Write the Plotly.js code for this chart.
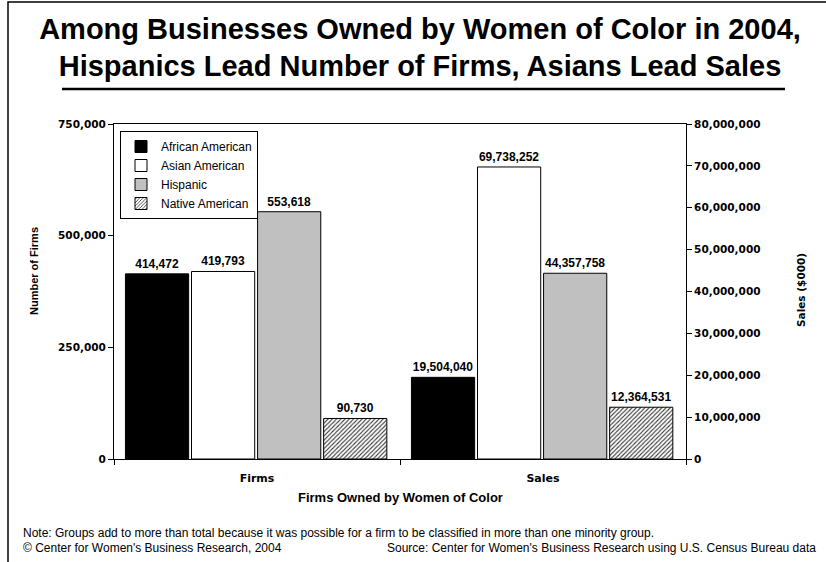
<!DOCTYPE html>
<html>
<head>
<meta charset="utf-8">
<script src="https://cdn.plot.ly/plotly-3.0.1.min.js"></script>
<style>html,body{margin:0;padding:0;background:#fff;}#chart{width:826px;height:562px;}</style>
</head>
<body>
<div id="chart"></div>
<script>
const categories = ['Firms', 'Sales'];
const series = ['African American', 'Asian American', 'Hispanic', 'Native American'];
const firms = [414472, 419793, 553618, 90730];
const sales = [19504040, 69738252, 44357758, 12364531];
const firmTicks = [0, 250000, 500000, 750000];

const FONT = 'Liberation Sans, Arial, sans-serif';
const WIDE = 'DejaVu Sans, Verdana, sans-serif';
const fills = ['#000000', '#ffffff', '#c0c0c0', '#ffffff'];
const offsets = [-0.46, -0.229, 0.002, 0.233];
const barWidth = 0.221;

function markerFor(i) {
  const m = {color: fills[i], line: {color: '#000', width: 1}};
  if (i === 3) m.pattern = {shape: '/', fgcolor: '#333', bgcolor: '#fff', size: 3, solidity: 0.35};
  return m;
}

const traces = [];
series.forEach((name, i) => {
  traces.push({
    type: 'bar', name: name, x: [categories[0]], y: [firms[i]], yaxis: 'y',
    offset: offsets[i], width: barWidth, marker: markerFor(i),
    texttemplate: '%{y:,}', textposition: 'outside', cliponaxis: false,
    textfont: {family: FONT, size: 12, color: '#000', weight: 700},
    hoverinfo: 'skip'
  });
});
series.forEach((name, i) => {
  traces.push({
    type: 'bar', name: name, x: [categories[1]], y: [sales[i]], yaxis: 'y2',
    offset: offsets[i], width: barWidth, marker: markerFor(i), showlegend: false,
    texttemplate: '%{y:,}', textposition: 'outside', cliponaxis: false,
    textfont: {family: FONT, size: 12, color: '#000', weight: 700},
    hoverinfo: 'skip'
  });
});

const L = 114, R = 686, T = 124, B = 459;
const W = R - L, H = B - T;
const px = v => (v - L) / W;
const py = v => (B - v) / H;

const tickFont = {family: WIDE, size: 10.5, color: '#000', weight: 700};

const layout = {
  width: 826, height: 562,
  margin: {l: L, r: 826 - R, t: T, b: 562 - B, pad: 0},
  paper_bgcolor: '#fff', plot_bgcolor: '#fff',
  font: {family: FONT, color: '#000'},
  barmode: 'overlay',
  showlegend: true,
  title: {
    text: 'Among Businesses Owned by Women of Color in 2004,<br>Hispanics Lead Number of Firms, Asians Lead Sales',
    font: {family: FONT, size: 29, color: '#000', weight: 700},
    x: 420 / 826, xanchor: 'center', xref: 'container',
    y: 1 - 38.5 / 562, yanchor: 'middle', yref: 'container'
  },
  legend: {
    x: px(120), y: py(131), xanchor: 'left', yanchor: 'top',
    bgcolor: '#fff', bordercolor: '#000', borderwidth: 1,
    font: {family: FONT, size: 12, color: '#000'},
    tracegroupgap: 0, itemwidth: 30
  },
  xaxis: {
    type: 'category', categoryorder: 'array', categoryarray: categories,
    range: [-0.5, 1.5], showline: true, linecolor: '#000', linewidth: 1, mirror: true,
    ticks: 'outside', tickson: 'boundaries', ticklen: 5, tickcolor: '#000',
    tickfont: {family: WIDE, size: 11, color: '#000', weight: 700}, ticklabelstandoff: 9,
    showgrid: false, zeroline: false, fixedrange: true
  },
  yaxis: {
    range: [0, 750000], tickvals: firmTicks, tickformat: ',',
    showline: true, linecolor: '#000', linewidth: 1, ticks: 'outside', ticklen: 5, tickcolor: '#000',
    tickfont: tickFont, showgrid: false, zeroline: false, fixedrange: true
  },
  yaxis2: {
    overlaying: 'y', side: 'right', range: [0, 80000000], dtick: 10000000, tick0: 0, tickformat: ',',
    showline: true, linecolor: '#000', linewidth: 1, ticks: 'outside', ticklen: 5, tickcolor: '#000',
    tickfont: tickFont, showgrid: false, zeroline: false, fixedrange: true
  },
  shapes: [
    {type: 'rect', xref: 'paper', yref: 'paper', x0: px(8), x1: px(832), y0: py(570), y1: py(2),
     line: {color: '#000', width: 1.5}, fillcolor: 'rgba(0,0,0,0)', layer: 'below'},
    {type: 'line', xref: 'paper', yref: 'paper', x0: px(62), x1: px(785), y0: py(89), y1: py(89),
     line: {color: '#000', width: 2.5}}
  ],
  annotations: [
    {text: 'Number of Firms', xref: 'paper', yref: 'paper', x: px(34), y: py(271), textangle: -90,
     xanchor: 'center', yanchor: 'middle',
     showarrow: false, font: {family: FONT, size: 11, color: '#000', weight: 700}},
    {text: 'Sales ($000)', xref: 'paper', yref: 'paper', x: px(801), y: py(290), textangle: -90,
     xanchor: 'center', yanchor: 'middle',
     showarrow: false, font: {family: WIDE, size: 10.5, color: '#000', weight: 700}},
    {text: 'Firms Owned by Women of Color', xref: 'paper', yref: 'paper', x: 0.5, y: py(497),
     xanchor: 'center', yanchor: 'middle',
     showarrow: false, font: {family: FONT, size: 13, color: '#000', weight: 700}},
    {text: 'Note: Groups add to more than total because it was possible for a firm to be classified in more than one minority group.',
     xref: 'paper', yref: 'paper', x: px(21), y: py(533), xanchor: 'left', yanchor: 'middle', showarrow: false,
     font: {family: FONT, size: 12, color: '#000'}},
    {text: '\u00a9 Center for Women\'s Business Research, 2004',
     xref: 'paper', yref: 'paper', x: px(21), y: py(548), xanchor: 'left', yanchor: 'middle', showarrow: false,
     font: {family: FONT, size: 12, color: '#000'}},
    {text: 'Source: Center for Women\'s Business Research using U.S. Census Bureau data',
     xref: 'paper', yref: 'paper', x: px(818), y: py(548), xanchor: 'right', yanchor: 'middle', showarrow: false,
     font: {family: FONT, size: 12, color: '#000'}}
  ]
};

Plotly.newPlot('chart', traces, layout, {displayModeBar: false, staticPlot: true});
</script>
</body>
</html>
